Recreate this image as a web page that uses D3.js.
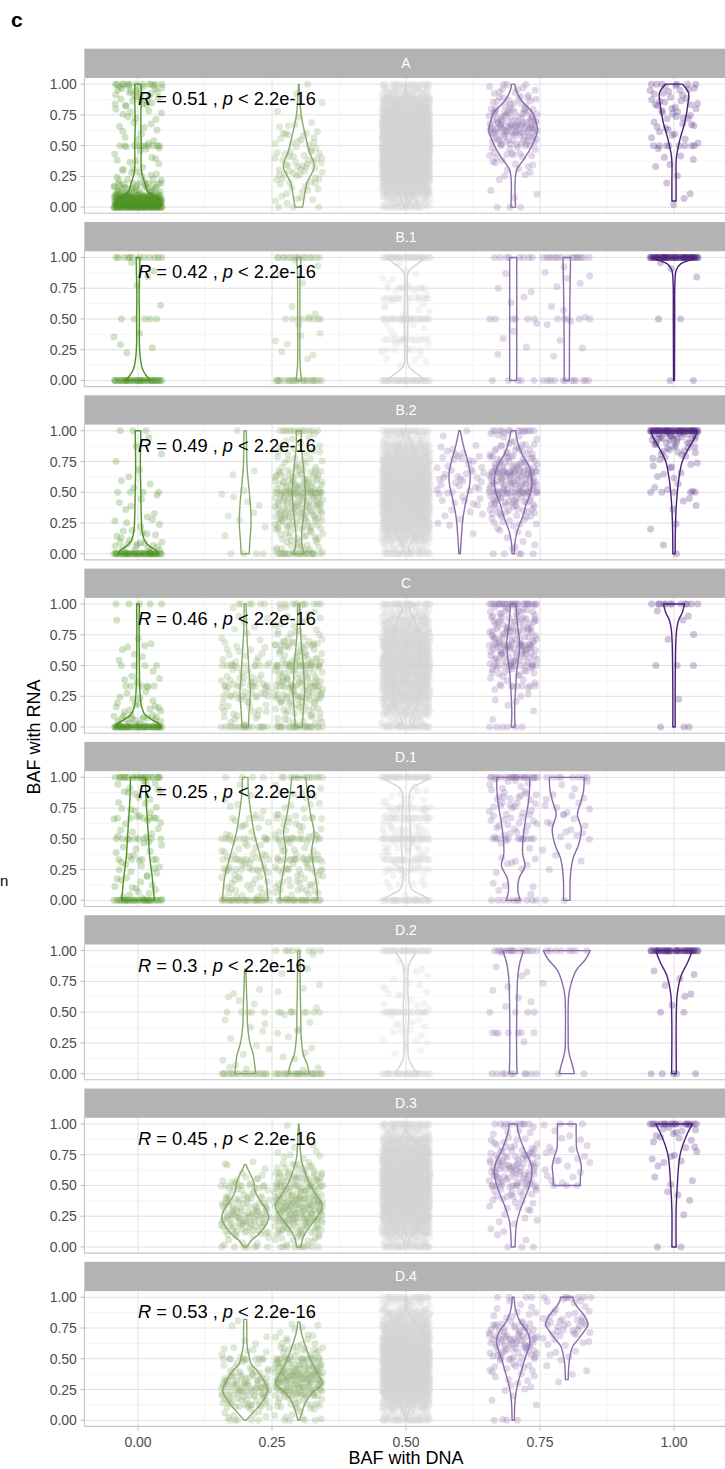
<!DOCTYPE html>
<html>
<head>
<meta charset="utf-8">
<script src="https://cdn.jsdelivr.net/npm/d3@7"></script>
<style>
  body { margin: 0; background: #fff; }
  svg { display: block; font-family: "Liberation Sans", Arial, sans-serif; }
</style>
</head>
<body>
<div id="chart"></div>
<script>
/*
DATA
*/
const panels = ["A", "B.1", "B.2", "C", "D.1", "D.2", "D.3", "D.4"];
const corrR = ["0.51", "0.42", "0.49", "0.46", "0.25", "0.3", "0.45", "0.53"];
const xTicks = [0, 0.25, 0.5, 0.75, 1];
const yTicks = [0, 0.25, 0.5, 0.75, 1];
const xMinor = [0.125, 0.375, 0.625, 0.875];
const yMinor = [0.125, 0.375, 0.625, 0.875];
const tickLabels = ["0.00", "0.25", "0.50", "0.75", "1.00"];

// colour of each BAF-with-DNA group
const groupX = [0, 0.2, 0.3, 0.5, 0.6, 0.7, 0.8, 1];
const groupColor = ["#4d9221", "#86a96a", "#86a96a", "#d3d3d3", "#8b6caa", "#8b6caa", "#8b6caa", "#4b1f7a"];

// each group: x = BAF with DNA, rows = [value, n] points sitting on an exact value,
// bins = counts of the other points in 0.1 wide bins from 0 to 1,
// violin = [value, relative half width]
const groupsA = [
  { x: 0, rows: [[0, 45], [0.5, 10], [1, 12]], bins: [170, 40, 12, 8, 6, 5, 6, 8, 12, 18],
    violin: [[0, 0.95], [0.03, 1], [0.08, 0.75], [0.13, 0.4], [0.19, 0.3], [0.27, 0.17], [0.35, 0.13], [0.5, 0.14], [0.65, 0.12], [0.8, 0.13], [0.9, 0.14], [1, 0.13]] },
  { x: 0.3, rows: [[0, 3], [1, 1]], bins: [6, 8, 14, 16, 12, 12, 6, 2, 1, 1],
    violin: [[0, 0.16], [0.08, 0.23], [0.2, 0.35], [0.33, 0.66], [0.45, 0.45], [0.55, 0.32], [0.65, 0.2], [0.75, 0.1], [0.9, 0.04], [1, 0.01]] },
  { x: 0.5, rows: [[0, 15], [1, 15]], bins: [60, 150, 250, 300, 350, 350, 300, 250, 150, 60],
    violin: [[0, 0.05], [0.1, 0.3], [0.2, 0.6], [0.35, 0.85], [0.5, 0.95], [0.65, 0.85], [0.8, 0.55], [0.88, 0.2], [0.93, 0.05], [1, 0.03]] },
  { x: 0.7, rows: [[0, 3], [1, 2]], bins: [1, 2, 4, 8, 15, 28, 50, 30, 18, 10],
    violin: [[0, 0.1], [0.1, 0.08], [0.2, 0.08], [0.3, 0.15], [0.41, 0.53], [0.52, 0.85], [0.63, 1.04], [0.7, 0.95], [0.76, 0.85], [0.87, 0.34], [0.95, 0.12], [1, 0.07]] },
  { x: 1, rows: [[0.5, 8], [1, 6]], bins: [2, 2, 1, 3, 3, 5, 8, 10, 12, 10],
    violin: [[0.05, 0.09], [0.2, 0.09], [0.4, 0.1], [0.54, 0.24], [0.7, 0.47], [0.85, 0.6], [0.93, 0.62], [1, 0.36]] }
];
const groupsB1 = [
  { x: 0, rows: [[0, 40], [0.5, 5], [1, 12]], bins: [0, 0, 3, 2, 0, 0, 1, 1, 2, 1],
    violin: [[0, 0.55], [0.04, 0.35], [0.1, 0.18], [0.2, 0.09], [0.3, 0.06], [0.5, 0.06], [0.7, 0.05], [0.9, 0.07], [1, 0.08]] },
  { x: 0.3, rows: [[0, 25], [0.5, 8], [1, 15]], bins: [0, 1, 3, 3, 1, 2, 1, 1, 1, 2],
    violin: [[0, 0.12], [0.1, 0.06], [0.5, 0.05], [0.9, 0.06], [1, 0.1]] },
  { x: 0.5, rows: [[0, 40], [0.25, 6], [0.333, 14], [0.5, 30], [0.667, 14], [0.75, 8], [1, 40]], bins: [0, 4, 5, 4, 6, 5, 6, 6, 4, 2],
    violin: [[0, 0.85], [0.05, 0.5], [0.12, 0.1], [0.25, 0.06], [0.5, 0.08], [0.75, 0.06], [0.88, 0.1], [0.95, 0.5], [1, 0.85]] },
  { x: 0.7, rows: [[0, 5], [0.5, 6], [1, 8]], bins: [0, 0, 2, 1, 2, 0, 2, 2, 1, 0],
    violin: [[0, 0.15], [0.5, 0.15], [1, 0.15]] },
  { x: 0.8, rows: [[0, 12], [0.5, 5], [1, 15]], bins: [0, 1, 1, 1, 2, 2, 1, 2, 3, 1],
    violin: [[0, 0.11], [0.5, 0.12], [1, 0.16]] },
  { x: 1, rows: [[0, 2], [0.5, 2], [1, 60]], bins: [0, 0, 0, 0, 0, 0, 0, 0, 1, 3],
    violin: [[0, 0.02], [0.5, 0.03], [0.8, 0.04], [0.9, 0.1], [0.95, 0.3], [0.98, 0.7], [1, 1.0]] }
];
const groupsB2 = [
  { x: 0, rows: [[0, 40], [0.5, 4], [1, 3]], bins: [20, 8, 6, 3, 3, 3, 2, 1, 2, 1],
    violin: [[0, 0.85], [0.03, 0.75], [0.06, 0.5], [0.1, 0.3], [0.18, 0.18], [0.3, 0.14], [0.5, 0.12], [0.7, 0.1], [1, 0.12]] },
  { x: 0.2, rows: [[0, 4], [1, 1]], bins: [0, 1, 2, 3, 3, 1, 2, 0, 0, 0],
    violin: [[0, 0.17], [0.1, 0.2], [0.25, 0.25], [0.4, 0.22], [0.55, 0.15], [0.7, 0.08], [0.85, 0.06], [1, 0.05]] },
  { x: 0.3, rows: [[0, 20], [0.5, 15], [1, 12]], bins: [18, 18, 30, 36, 36, 33, 24, 12, 9, 5],
    violin: [[0, 0.25], [0.05, 0.15], [0.15, 0.12], [0.3, 0.2], [0.5, 0.28], [0.7, 0.2], [0.9, 0.1], [1, 0.12]] },
  { x: 0.5, rows: [[0, 20], [1, 20]], bins: [40, 100, 150, 180, 200, 200, 180, 150, 100, 40],
    violin: [[0, 0.3], [0.04, 0.1], [0.12, 0.3], [0.3, 0.6], [0.5, 0.7], [0.7, 0.6], [0.88, 0.3], [0.96, 0.1], [1, 0.3]] },
  { x: 0.6, rows: [], bins: [0, 1, 3, 5, 8, 10, 12, 10, 6, 2],
    violin: [[0, 0.03], [0.15, 0.08], [0.3, 0.15], [0.45, 0.3], [0.55, 0.42], [0.65, 0.45], [0.75, 0.35], [0.85, 0.2], [0.95, 0.08], [1, 0.03]] },
  { x: 0.7, rows: [[0, 5], [0.5, 12], [0.667, 8], [1, 12]], bins: [3, 5, 10, 20, 28, 36, 36, 28, 18, 9],
    violin: [[0, 0.05], [0.1, 0.08], [0.2, 0.2], [0.3, 0.4], [0.4, 0.55], [0.5, 0.75], [0.6, 0.8], [0.7, 0.7], [0.8, 0.4], [0.9, 0.2], [1, 0.1]] },
  { x: 1, rows: [[0, 1], [0.5, 5], [1, 50]], bins: [1, 0, 2, 2, 2, 4, 5, 8, 15, 30],
    violin: [[0, 0.05], [0.2, 0.06], [0.4, 0.1], [0.6, 0.2], [0.75, 0.35], [0.85, 0.6], [0.95, 0.9], [1, 1.0]] }
];
const groupsC = [
  { x: 0, rows: [[0, 40], [0.333, 5], [0.5, 4], [1, 5]], bins: [25, 10, 6, 4, 2, 3, 4, 1, 1, 0],
    violin: [[0, 1], [0.03, 0.85], [0.06, 0.6], [0.1, 0.3], [0.17, 0.15], [0.3, 0.08], [0.5, 0.06], [0.8, 0.05], [1, 0.06]] },
  { x: 0.2, rows: [[0, 15], [0.25, 5], [0.333, 6], [0.5, 8], [1, 6]], bins: [10, 10, 14, 14, 9, 9, 6, 4, 3, 2],
    violin: [[0, 0.14], [0.1, 0.16], [0.2, 0.2], [0.3, 0.22], [0.4, 0.18], [0.5, 0.15], [0.65, 0.1], [0.8, 0.06], [0.9, 0.05], [1, 0.04]] },
  { x: 0.3, rows: [[0, 20], [0.25, 6], [0.333, 8], [0.5, 12], [0.667, 5], [1, 10]], bins: [14, 18, 25, 25, 22, 22, 18, 11, 7, 6],
    violin: [[0, 0.15], [0.1, 0.18], [0.2, 0.22], [0.3, 0.25], [0.4, 0.22], [0.5, 0.2], [0.65, 0.12], [0.8, 0.07], [0.9, 0.05], [1, 0.04]] },
  { x: 0.5, rows: [[0, 25], [0.5, 15], [1, 25]], bins: [40, 80, 110, 130, 140, 140, 130, 110, 80, 40],
    violin: [[0, 0.5], [0.04, 0.15], [0.1, 0.3], [0.25, 0.55], [0.5, 0.6], [0.75, 0.55], [0.9, 0.3], [0.96, 0.15], [1, 0.5]] },
  { x: 0.7, rows: [[0, 6], [0.333, 6], [0.5, 10], [0.667, 8], [1, 25]], bins: [1, 2, 4, 8, 16, 24, 30, 30, 26, 18],
    violin: [[0, 0.08], [0.1, 0.06], [0.2, 0.07], [0.3, 0.1], [0.45, 0.15], [0.6, 0.25], [0.7, 0.27], [0.8, 0.2], [0.9, 0.15], [1, 0.12]] },
  { x: 1, rows: [[0, 3], [0.5, 3], [1, 12]], bins: [0, 0, 1, 0, 0, 0, 0, 2, 1, 2],
    violin: [[0, 0.05], [0.3, 0.05], [0.5, 0.06], [0.7, 0.08], [0.8, 0.12], [0.87, 0.2], [0.93, 0.35], [1, 0.45]] }
];
const groupsD1 = [
  { x: 0, rows: [[0, 30], [0.333, 5], [0.5, 8], [0.667, 5], [1, 20]], bins: [8, 8, 8, 6, 6, 6, 7, 7, 6, 6],
    violin: [[0, 0.7], [0.1, 0.65], [0.2, 0.6], [0.35, 0.5], [0.5, 0.45], [0.65, 0.4], [0.8, 0.35], [0.9, 0.33], [1, 0.32]] },
  { x: 0.2, rows: [[0, 25], [0.25, 6], [0.333, 8], [0.5, 10], [0.667, 4], [1, 4]], bins: [12, 12, 11, 10, 8, 6, 5, 3, 2, 1],
    violin: [[0, 0.97], [0.1, 0.93], [0.18, 0.88], [0.34, 0.67], [0.53, 0.4], [0.7, 0.25], [0.85, 0.15], [0.95, 0.12], [1, 0.12]] },
  { x: 0.3, rows: [[0, 20], [0.25, 6], [0.333, 10], [0.5, 12], [0.667, 5], [1, 12]], bins: [12, 12, 12, 12, 10, 10, 8, 6, 5, 3],
    violin: [[0, 0.8], [0.1, 0.78], [0.25, 0.65], [0.4, 0.55], [0.55, 0.65], [0.7, 0.5], [0.85, 0.38], [1, 0.3]] },
  { x: 0.5, rows: [[0, 35], [0.25, 8], [0.333, 15], [0.5, 30], [0.667, 15], [0.75, 8], [1, 35]], bins: [2, 8, 12, 15, 18, 18, 15, 12, 8, 2],
    violin: [[0, 1], [0.04, 0.7], [0.08, 0.3], [0.13, 0.15], [0.3, 0.15], [0.5, 0.2], [0.7, 0.15], [0.87, 0.15], [0.92, 0.3], [0.96, 0.7], [1, 1]] },
  { x: 0.7, rows: [[0, 10], [0.5, 10], [1, 20]], bins: [2, 3, 4, 4, 4, 8, 12, 12, 12, 8],
    violin: [[0, 0.3], [0.08, 0.2], [0.18, 0.25], [0.28, 0.5], [0.38, 0.4], [0.5, 0.42], [0.65, 0.52], [0.8, 0.65], [0.92, 0.7], [1, 0.7]] },
  { x: 0.8, rows: [[0, 2], [1, 8]], bins: [0, 0, 1, 2, 3, 5, 5, 6, 4, 3],
    violin: [[0, 0.14], [0.15, 0.14], [0.25, 0.18], [0.35, 0.28], [0.45, 0.5], [0.58, 0.62], [0.7, 0.45], [0.8, 0.6], [0.9, 0.72], [1, 0.74]] }
];
const groupsD2 = [
  { x: 0.2, rows: [[0, 20], [0.5, 5]], bins: [3, 3, 2, 2, 2, 2, 3, 0, 0, 0],
    violin: [[0, 0.45], [0.08, 0.4], [0.15, 0.35], [0.25, 0.2], [0.4, 0.1], [0.55, 0.08], [0.7, 0.05], [0.85, 0.03]] },
  { x: 0.3, rows: [[0, 25], [0.5, 8], [1, 8]], bins: [2, 3, 2, 3, 2, 2, 2, 1, 2, 1],
    violin: [[0, 0.45], [0.08, 0.35], [0.15, 0.2], [0.3, 0.1], [0.5, 0.08], [0.7, 0.06], [0.9, 0.05], [1, 0.05]] },
  { x: 0.5, rows: [[0, 30], [0.5, 20], [1, 30]], bins: [1, 2, 4, 6, 5, 5, 6, 5, 3, 1],
    violin: [[0, 0.5], [0.05, 0.3], [0.12, 0.12], [0.3, 0.08], [0.5, 0.12], [0.7, 0.08], [0.88, 0.12], [0.95, 0.3], [1, 0.5]] },
  { x: 0.7, rows: [[0, 10], [0.333, 6], [0.5, 4], [1, 15]], bins: [0, 0, 1, 1, 0, 2, 2, 2, 2, 1],
    violin: [[0, 0.17], [0.1, 0.15], [0.5, 0.15], [0.7, 0.17], [0.8, 0.2], [0.9, 0.28], [1, 0.44]] },
  { x: 0.8, rows: [[0, 2], [1, 8]], bins: [0, 0, 0, 0, 0, 0, 0, 1, 0, 0],
    violin: [[0, 0.32], [0.06, 0.25], [0.14, 0.13], [0.2, 0.07], [0.3, 0.06], [0.63, 0.08], [0.73, 0.18], [0.84, 0.4], [0.93, 0.8], [1, 1.0]] },
  { x: 1, rows: [[0, 5], [0.5, 2], [1, 40]], bins: [0, 0, 0, 0, 0, 1, 2, 2, 2, 1],
    violin: [[0, 0.1], [0.3, 0.09], [0.5, 0.1], [0.65, 0.14], [0.8, 0.31], [0.9, 0.57], [1, 0.78]] }
];
const groupsD3 = [
  { x: 0.2, rows: [[0, 6], [0.5, 6]], bins: [8, 28, 36, 28, 16, 10, 4, 0, 0, 0],
    violin: [[0, 0.08], [0.05, 0.25], [0.1, 0.55], [0.17, 0.85], [0.24, 1.0], [0.32, 0.85], [0.4, 0.55], [0.47, 0.4], [0.52, 0.38], [0.58, 0.25], [0.63, 0.12], [0.67, 0.03]] },
  { x: 0.3, rows: [[0, 8], [0.5, 8]], bins: [12, 32, 48, 52, 36, 28, 16, 6, 3, 1],
    violin: [[0, 0.1], [0.06, 0.15], [0.12, 0.3], [0.2, 0.6], [0.28, 0.9], [0.34, 1.0], [0.42, 0.75], [0.5, 0.5], [0.6, 0.28], [0.7, 0.12], [0.8, 0.06], [0.9, 0.04], [1, 0.01]] },
  { x: 0.5, rows: [[0, 25], [1, 25]], bins: [50, 120, 170, 200, 220, 220, 200, 170, 120, 50],
    violin: [[0, 0.08], [0.05, 0.1], [0.1, 0.3], [0.2, 0.6], [0.35, 0.85], [0.5, 0.95], [0.65, 0.85], [0.8, 0.6], [0.88, 0.3], [0.93, 0.08], [1, 0.05]] },
  { x: 0.7, rows: [[0, 3], [0.5, 6], [1, 8]], bins: [2, 3, 5, 9, 16, 24, 28, 22, 12, 7],
    violin: [[0, 0.08], [0.1, 0.1], [0.2, 0.15], [0.3, 0.3], [0.4, 0.5], [0.5, 0.7], [0.6, 0.8], [0.68, 0.75], [0.78, 0.5], [0.88, 0.3], [0.95, 0.2], [1, 0.17]] },
  { x: 0.8, rows: [[0.5, 3], [1, 3]], bins: [0, 0, 0, 0, 0, 4, 5, 6, 4, 3],
    violin: [[0.5, 0.58], [0.57, 0.58], [0.65, 0.62], [0.72, 0.55], [0.8, 0.42], [0.9, 0.4], [1, 0.4]] },
  { x: 1, rows: [[0, 2], [1, 20]], bins: [0, 0, 1, 1, 2, 3, 3, 4, 6, 8],
    violin: [[0, 0.09], [0.3, 0.09], [0.5, 0.14], [0.75, 0.26], [0.9, 0.52], [1, 0.79]] }
];
const groupsD4 = [
  { x: 0.2, rows: [[0, 4], [0.5, 6]], bins: [8, 28, 40, 28, 12, 8, 3, 1, 1, 0],
    violin: [[0, 0.04], [0.06, 0.32], [0.14, 0.68], [0.24, 0.96], [0.32, 0.8], [0.4, 0.53], [0.46, 0.25], [0.52, 0.17], [0.58, 0.1], [0.65, 0.07], [0.75, 0.07], [0.82, 0.06]] },
  { x: 0.3, rows: [[0, 4], [0.5, 6]], bins: [8, 20, 48, 60, 40, 20, 10, 5, 2, 0],
    violin: [[0, 0.04], [0.08, 0.15], [0.15, 0.3], [0.22, 0.55], [0.3, 1.0], [0.38, 0.8], [0.45, 0.6], [0.55, 0.38], [0.65, 0.2], [0.72, 0.1], [0.8, 0.04]] },
  { x: 0.5, rows: [[0, 25], [1, 20]], bins: [50, 120, 180, 220, 230, 220, 180, 130, 80, 40],
    violin: [[0, 0.05], [0.07, 0.1], [0.15, 0.4], [0.3, 0.8], [0.5, 0.95], [0.7, 0.75], [0.8, 0.4], [0.88, 0.08], [1, 0.04]] },
  { x: 0.7, rows: [[0, 3], [1, 4]], bins: [1, 3, 4, 7, 12, 24, 32, 20, 7, 4],
    violin: [[0, 0.05], [0.1, 0.06], [0.2, 0.1], [0.3, 0.2], [0.4, 0.35], [0.5, 0.5], [0.6, 0.68], [0.65, 0.71], [0.72, 0.6], [0.8, 0.3], [0.9, 0.1], [1, 0.04]] },
  { x: 0.8, rows: [[1, 6]], bins: [0, 0, 0, 2, 3, 4, 8, 15, 12, 6],
    violin: [[0.33, 0.06], [0.4, 0.07], [0.5, 0.12], [0.6, 0.25], [0.65, 0.45], [0.7, 0.65], [0.78, 0.9], [0.85, 0.75], [0.92, 0.45], [0.97, 0.3], [1, 0.27]] }
];
const groupsByPanel = [groupsA, groupsB1, groupsB2, groupsC, groupsD1, groupsD2, groupsD3, groupsD4];

/*
SET UP
*/
const W = 725, H = 1469;
const panelTop0 = 78, panelH = 135.3, panelStep = 173.3, stripH = 29.3;
const jitterW = 0.045;     // geom_jitter width
const violinMax = 0.0438;  // widest half violin, in BAF units

const svg = d3.select("#chart").append("svg").attr("width", W).attr("height", H);

const x = d3.scaleLinear().domain([-0.1, 1.1]).range([84.4, 727.6]);
const halfW = d3.scaleLinear().domain([0, 1]).range([0, violinMax]);
const color = d3.scaleOrdinal().domain(groupX).range(groupColor);

// deterministic jitter: Halton sequence on a scrambled index
function halton(i, b) {
  let f = 1, r = 0;
  while (i > 0) { f /= b; r += f * (i % b); i = Math.floor(i / b); }
  return r;
}
function jitterPoints(g, seed) {
  const out = [];
  let n = 0;
  const spot = () => {
    const idx = ((n++ * 7919 + seed * 131) % 65521) + 1;
    return [halton(idx, 2), halton(idx, 3)];
  };
  g.rows.forEach(([v, c]) => {
    for (let i = 0; i < c; i++) {
      const [u] = spot();
      out.push({ bx: g.x + (u * 2 - 1) * jitterW, by: v });
    }
  });
  g.bins.forEach((c, b) => {
    for (let i = 0; i < c; i++) {
      const [u, w] = spot();
      out.push({ bx: g.x + (u * 2 - 1) * jitterW, by: b * 0.1 + w * 0.1 });
    }
  });
  return out;
}

/*
PANELS
*/
panels.forEach((name, i) => {
  const top = panelTop0 + i * panelStep;
  const y = d3.scaleLinear().domain([-0.05, 1.05]).range([top + panelH, top]);
  const p = svg.append("g").attr("class", "panel");

  // grid
  p.selectAll(".ymin").data(yMinor).join("line")
    .attr("x1", x(-0.1)).attr("x2", x(1.1)).attr("y1", y).attr("y2", y)
    .attr("stroke", "#efefef").attr("stroke-width", 0.6);
  p.selectAll(".xmin").data(xMinor).join("line")
    .attr("y1", top).attr("y2", top + panelH).attr("x1", x).attr("x2", x)
    .attr("stroke", "#efefef").attr("stroke-width", 0.6);
  p.selectAll(".ymaj").data(yTicks).join("line")
    .attr("x1", x(-0.1)).attr("x2", x(1.1)).attr("y1", y).attr("y2", y)
    .attr("stroke", "#e0e0e0").attr("stroke-width", 1);
  p.selectAll(".xmaj").data(xTicks).join("line")
    .attr("y1", top).attr("y2", top + panelH).attr("x1", x).attr("x2", x)
    .attr("stroke", "#e0e0e0").attr("stroke-width", 1);

  const groups = groupsByPanel[i];

  // jittered points
  groups.forEach((g, gi) => {
    p.append("g").selectAll("circle")
      .data(jitterPoints(g, i * 97 + gi * 13))
      .join("circle")
      .attr("cx", (d) => x(d.bx))
      .attr("cy", (d) => y(d.by))
      .attr("r", 3.5)
      .attr("fill", color(g.x))
      .attr("fill-opacity", 0.26);
  });

  // violins
  groups.forEach((g) => {
    const area = d3.area()
      .curve(d3.curveCatmullRom.alpha(0.5))
      .y((d) => y(d[0]))
      .x0((d) => x(g.x - halfW(d[1])))
      .x1((d) => x(g.x + halfW(d[1])));
    p.append("path")
      .attr("d", area(g.violin))
      .attr("fill", "none")
      .attr("stroke", color(g.x))
      .attr("stroke-width", 1.4)
      .attr("stroke-linejoin", "round");
  });

  // correlation label
  const lab = p.append("text")
    .attr("x", x(0)).attr("y", y(1) + 21)
    .attr("font-size", 18.3).attr("fill", "#000");
  lab.append("tspan").attr("font-style", "italic").text("R");
  lab.append("tspan").text(" = " + corrR[i] + " , ");
  lab.append("tspan").attr("font-style", "italic").text("p");
  lab.append("tspan").text(" < 2.2e-16");

  // axis lines, ticks, labels
  p.append("line").attr("x1", x(-0.1)).attr("x2", x(1.1))
    .attr("y1", top + panelH).attr("y2", top + panelH)
    .attr("stroke", "#c4c4c4").attr("stroke-width", 1.1);
  p.append("line").attr("x1", x(-0.1)).attr("x2", x(-0.1))
    .attr("y1", top).attr("y2", top + panelH)
    .attr("stroke", "#c4c4c4").attr("stroke-width", 1.1);
  p.selectAll(".ytick").data(yTicks).join("line")
    .attr("x1", x(-0.1) - 4).attr("x2", x(-0.1)).attr("y1", y).attr("y2", y)
    .attr("stroke", "#c4c4c4").attr("stroke-width", 1.1);
  p.selectAll(".ylab").data(yTicks).join("text")
    .attr("x", x(-0.1) - 7.5).attr("y", (d) => y(d) + 5)
    .attr("text-anchor", "end").attr("font-size", 14).attr("fill", "#4d4d4d")
    .text((d, k) => tickLabels[k]);

  // strip
  p.append("rect").attr("x", x(-0.1)).attr("y", top - stripH)
    .attr("width", x(1.1) - x(-0.1)).attr("height", stripH).attr("fill", "#b3b3b3");
  p.append("text").attr("x", (x(-0.1) + x(1.1)) / 2).attr("y", top - stripH / 2 + 5)
    .attr("text-anchor", "middle").attr("font-size", 14).attr("fill", "#fff").text(name);

  // x axis on the last panel only
  if (i === panels.length - 1) {
    p.selectAll(".xtick").data(xTicks).join("line")
      .attr("x1", x).attr("x2", x).attr("y1", top + panelH).attr("y2", top + panelH + 4)
      .attr("stroke", "#c4c4c4").attr("stroke-width", 1.1);
    p.selectAll(".xlab").data(xTicks).join("text")
      .attr("x", x).attr("y", top + panelH + 20.5)
      .attr("text-anchor", "middle").attr("font-size", 14).attr("fill", "#4d4d4d")
      .text((d, k) => tickLabels[k]);
  }
});

/*
TITLES
*/
svg.append("text").attr("x", x(0.5)).attr("y", 1464)
  .attr("text-anchor", "middle").attr("font-size", 18).attr("fill", "#000").text("BAF with DNA");
svg.append("text").attr("transform", "translate(40,737) rotate(-90)")
  .attr("text-anchor", "middle").attr("font-size", 18).attr("fill", "#000").text("BAF with RNA");
svg.append("text").attr("x", 11).attr("y", 27)
  .attr("font-size", 21).attr("font-weight", "bold").attr("fill", "#000").text("c");
svg.append("text").attr("x", 0).attr("y", 886)
  .attr("font-size", 15).attr("fill", "#000").text("n");
</script>
</body>
</html>
